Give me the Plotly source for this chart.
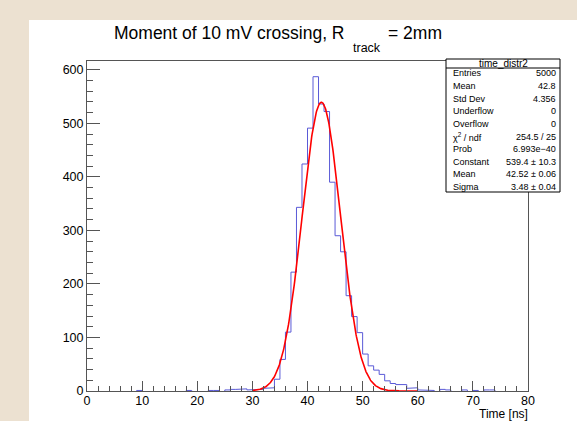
import numpy as np
import plotly.graph_objects as go

# ---------------- data ----------------
bin_low = 0.0
bin_high = 80.0
counts = [0, 0, 0, 0, 0, 0, 0, 0, 0, 1,
          0, 0, 0, 0, 0, 0, 0, 0, 1, 0,
          0, 0, 1, 1, 0, 2, 3, 3, 4, 2,
          2, 3, 5, 6, 22, 59, 110, 222, 343, 424,
          491, 587, 536, 522, 390, 290, 260, 178, 139, 109,
          69, 47, 39, 31, 19, 14, 12, 12, 5, 6,
          2, 2, 1, 0, 3, 2, 0, 0, 2, 0,
          1, 0, 2, 2, 0, 0, 0, 0, 0, 0]

fit_constant = 539.4
fit_mean = 42.52
fit_sigma = 3.48
fit_range = [30.0, 60.0]

stat_title = "time_distr2"
stat_labels = ["Entries", "Mean", "Std Dev", "Underflow", "Overflow",
               "χ<sup>2</sup> / ndf", "Prob", "Constant", "Mean", "Sigma"]
stat_values = ["5000", "42.8", "4.356", "0", "0",
               "254.5 / 25", "6.993e\u221240", "539.4 ± 10.3", "42.52 ± 0.06", "3.48 ± 0.04"]

title_main = "Moment of 10 mV crossing, R"
title_sub = "track"
title_end = "= 2mm"
x_title = "Time [ns]"
x_ticks = [0, 10, 20, 30, 40, 50, 60, 70, 80]
y_ticks = [0, 100, 200, 300, 400, 500, 600]

# ---------------- geometry ----------------
W, H = 577, 421
L, R, T, B = 87, 528, 61, 391   # plot frame in pixels
pw, ph = R - L, B - T


def px(x):
    return (x - L) / pw


def py(y):
    return (B - y) / ph


# histogram outline built from the bin contents;
# runs of empty bins are left to the axis line
nb = len(counts)
edges = np.linspace(bin_low, bin_high, nb + 1)
hx, hy = [], []
in_run = False
for i, c in enumerate(counts):
    if c > 0:
        if not in_run:
            hx += [edges[i]]
            hy += [0]
            in_run = True
        hx += [edges[i], edges[i + 1]]
        hy += [c, c]
    elif in_run:
        hx += [edges[i], None]
        hy += [0, None]
        in_run = False
if in_run:
    hx += [edges[-1]]
    hy += [0]

xf = np.linspace(fit_range[0], fit_range[1], 400)
yf = fit_constant * np.exp(-0.5 * ((xf - fit_mean) / fit_sigma) ** 2)

ymax = 1.05 * max(counts)

fig = go.Figure()
fig.add_trace(go.Scatter(x=hx, y=hy, mode="lines", connectgaps=False,
                         line=dict(color="rgb(90,90,215)", width=1),
                         hoverinfo="skip", showlegend=False))
fig.add_trace(go.Scatter(x=xf, y=yf, mode="lines",
                         line=dict(color="#ff0000", width=1.6),
                         hoverinfo="skip", showlegend=False))

FONT = "Liberation Sans, Arial, sans-serif"
beige = "rgb(236,225,209)"
fig.update_layout(
    width=W, height=H,
    margin=dict(l=L, r=W - R, t=T, b=H - B, pad=0),
    paper_bgcolor="white",
    plot_bgcolor="white",
    font=dict(family=FONT, color="black"),
    showlegend=False,
)

axis_col = "#555555"
fig.update_xaxes(
    range=[bin_low, bin_high], tickvals=x_ticks,
    ticks="inside", ticklen=10, tickcolor=axis_col, tickwidth=1,
    minor=dict(dtick=2, ticks="inside", ticklen=5, tickcolor=axis_col, tickwidth=1),
    showline=True, linecolor=axis_col, linewidth=1, mirror=True,
    showgrid=False, zeroline=False, layer="above traces",
    ticklabelstandoff=-2,
    tickfont=dict(size=12.5, color="black", family=FONT),
)
fig.update_yaxes(
    range=[0, ymax], tickvals=y_ticks,
    ticks="inside", ticklen=13, tickcolor=axis_col, tickwidth=1,
    minor=dict(dtick=20, ticks="inside", ticklen=6, tickcolor=axis_col, tickwidth=1),
    showline=True, linecolor=axis_col, linewidth=1, mirror=True,
    showgrid=False, zeroline=False, layer="above traces",
    tickfont=dict(size=12.5, color="black", family=FONT),
)

shapes = [
    # beige strips outside the canvas
    dict(type="rect", xref="paper", yref="paper", x0=px(0), x1=px(29), y0=py(H), y1=py(0),
         fillcolor=beige, line=dict(width=0), layer="below"),
    dict(type="rect", xref="paper", yref="paper", x0=px(0), x1=px(W), y0=py(20), y1=py(0),
         fillcolor=beige, line=dict(width=0), layer="below"),
    # stats box
    dict(type="rect", xref="paper", yref="paper", x0=px(446), x1=px(560), y0=py(192), y1=py(59),
         fillcolor="white", line=dict(color="black", width=1), layer="above"),
    dict(type="line", xref="paper", yref="paper", x0=px(446), x1=px(560), y0=py(68), y1=py(68),
         line=dict(color="black", width=1), layer="above"),
]

annotations = [
    dict(text=title_main, xref="paper", yref="paper", x=px(347), y=py(33),
         xanchor="right", yanchor="middle", showarrow=False,
         font=dict(size=17.5, color="black", family=FONT)),
    dict(text=title_sub, xref="paper", yref="paper", x=px(351), y=py(48),
         xanchor="left", yanchor="middle", showarrow=False,
         font=dict(size=12.5, color="black", family=FONT)),
    dict(text=title_end, xref="paper", yref="paper", x=px(386), y=py(33),
         xanchor="left", yanchor="middle", showarrow=False,
         font=dict(size=17.5, color="black", family=FONT)),
    dict(text=x_title, xref="paper", yref="paper", x=px(530), y=py(414),
         xanchor="right", yanchor="middle", showarrow=False,
         font=dict(size=12, color="black", family=FONT)),
    dict(text=stat_title, xref="paper", yref="paper", x=px(503), y=py(63),
         xanchor="center", yanchor="middle", showarrow=False,
         font=dict(size=10, color="black", family=FONT)),
]
for k, (lab, val) in enumerate(zip(stat_labels, stat_values)):
    yy = 73.5 + 12.6 * k
    annotations.append(dict(text=lab, xref="paper", yref="paper", x=px(451), y=py(yy),
                            xanchor="left", yanchor="middle", showarrow=False,
                            font=dict(size=9, color="black", family=FONT)))
    annotations.append(dict(text=val, xref="paper", yref="paper", x=px(558), y=py(yy),
                            xanchor="right", yanchor="middle", showarrow=False,
                            font=dict(size=9, color="black", family=FONT)))

fig.update_layout(shapes=shapes, annotations=annotations)
fig.write_html("out.html", config={"displayModeBar": False},
               post_script="document.body.style.margin='0px';document.body.style.overflow='hidden';")
